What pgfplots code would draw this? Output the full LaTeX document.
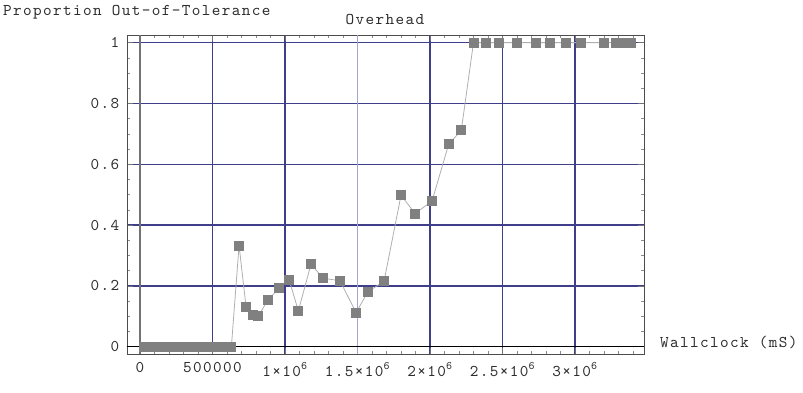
\documentclass[border=0pt]{standalone}
\usepackage{fontspec}
\setmainfont{Liberation Mono}
\newfontfamily\cour{lmmono10-regular.otf}[LetterSpace=8.5]
\usepackage{pgfplots}
\pgfplotsset{compat=1.18}
\definecolor{gridnavy}{RGB}{62,62,138}
\definecolor{gridlight}{RGB}{165,165,210}
\definecolor{markgray}{RGB}{128,128,128}
\definecolor{linegray}{RGB}{175,175,175}
\definecolor{textgray}{RGB}{45,45,45}

\begin{document}
\begin{tikzpicture}
\fontsize{16.4}{19}\cour
\begin{axis}[
  at={(0,0)},anchor=south west,
  scale only axis,
  width=517pt,height=319pt,
  xmin=-90000,xmax=3476000,
  ymin=-0.024,ymax=1.025,
  scaled x ticks=false,
  xtick={0,500000,1000000,1500000,2000000,2500000,3000000},
  xticklabels={0,500000,1×10\textsuperscript{6},1.5×10\textsuperscript{6},2×10\textsuperscript{6},2.5×10\textsuperscript{6},3×10\textsuperscript{6}},
  ytick={0,0.2,0.4,0.6,0.8,1},
  yticklabels={0,0.2,0.4,0.6,0.8,1},
  minor xtick={100000,200000,300000,400000,600000,700000,800000,900000,1100000,1200000,1300000,1400000,1600000,1700000,1800000,1900000,2100000,2200000,2300000,2400000,2600000,2700000,2800000,2900000,3100000,3200000,3300000,3400000},
  minor ytick={0.05,0.1,0.15,0.25,0.3,0.35,0.45,0.5,0.55,0.65,0.7,0.75,0.85,0.9,0.95},
  major tick length=6pt,minor tick length=3pt,
  tick style={black!55,line width=0.6pt},
  minor tick style={black!45,line width=0.5pt},
  xmajorgrids,ymajorgrids,
  major grid style={gridnavy,line width=1.3pt},
  axis line style={black!70,line width=0.9pt},
  ticklabel style={text=textgray,font=\fontsize{16.4}{19}\cour},
  xticklabel style={yshift=-3pt},
  yticklabel style={xshift=-2pt},
]
\draw[gridlight,line width=1.3pt] (axis cs:1500000,-0.024) -- (axis cs:1500000,1.025);
\draw[black!55,line width=1.4pt] (axis cs:0,-0.024) -- (axis cs:0,1.025);
\draw[black,line width=1.1pt] (axis cs:-90000,0) -- (axis cs:3476000,0);
\addplot[linegray,line width=0.8pt,mark=square*,mark size=4.5pt,
  mark options={draw=markgray,fill=markgray}] coordinates {
(30000,0) (55000,0) (80000,0) (105000,0) (130000,0) (155000,0) (180000,0)
(205000,0) (230000,0) (255000,0) (280000,0) (305000,0) (330000,0) (355000,0)
(380000,0) (405000,0) (430000,0) (455000,0) (480000,0) (505000,0) (530000,0)
(555000,0) (580000,0) (605000,0) (630000,0)
(683000,0.333)
(731000,0.132)
(777000,0.103)
(816000,0.100)
(880000,0.153)
(959000,0.192)
(1028000,0.220)
(1092000,0.118)
(1179000,0.271)
(1264000,0.225)
(1379000,0.217)
(1490000,0.112)
(1572000,0.181)
(1683000,0.215)
(1800000,0.498)
(1897000,0.438)
(2014000,0.479)
(2129000,0.666)
(2216000,0.712)
(2300000,1)
(2388000,1)
(2474000,1)
(2596000,1)
(2731000,1)
(2829000,1)
(2940000,1)
(3038000,1)
(3198000,1)
(3285000,1)
(3338000,1)
(3388000,1)
};
\end{axis}
\node[anchor=base west,inner sep=0pt,text=textgray] at (-124pt,339pt) {Proportion Out-of-Tolerance};
\node[anchor=base,inner sep=0pt,text=textgray] at (258pt,330pt) {Overhead};
\node[anchor=base west,inner sep=0pt,text=textgray] at (533pt,7pt) {Wallclock (mS)};
\pgfresetboundingbox
\path[use as bounding box] (-127pt,-38pt) rectangle (676pt,354pt);
\end{tikzpicture}
\end{document}
